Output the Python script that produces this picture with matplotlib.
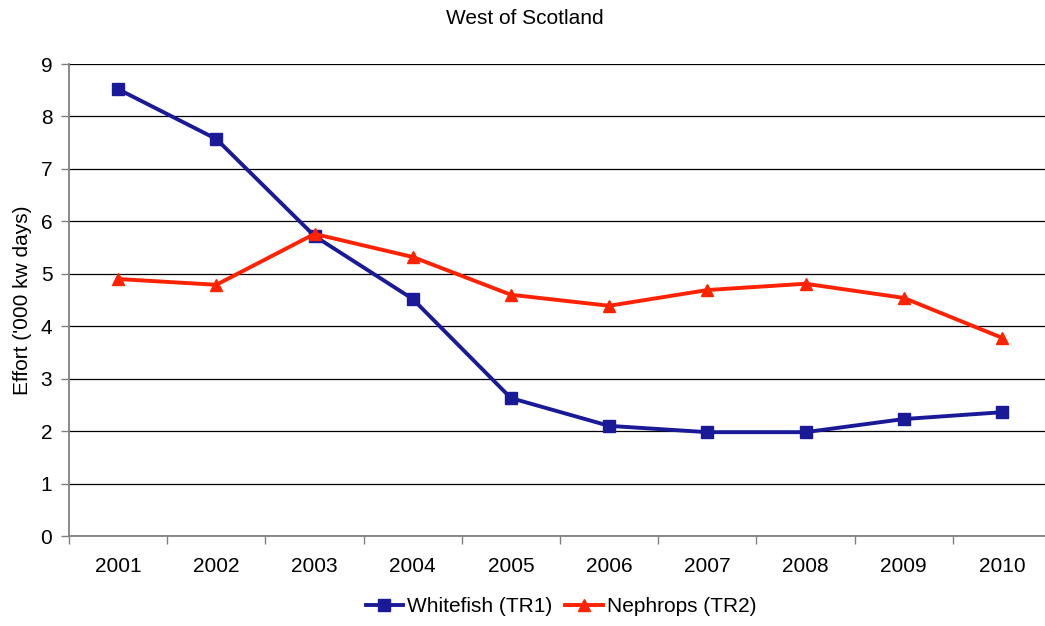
import matplotlib
matplotlib.use("Agg")
import matplotlib.pyplot as plt
from matplotlib.ticker import FixedLocator

plt.rcParams['font.family'] = ['Liberation Sans', 'DejaVu Sans']

years = ["2001", "2002", "2003", "2004", "2005", "2006", "2007", "2008", "2009", "2010"]
whitefish = [8.52, 7.57, 5.72, 4.52, 2.63, 2.10, 1.98, 1.98, 2.23, 2.36]
nephrops = [4.90, 4.79, 5.76, 5.32, 4.60, 4.39, 4.69, 4.81, 4.54, 3.78]

fig = plt.figure(figsize=(10.45, 6.26), dpi=100)
W, H = 1045, 626
left, right, top, bottom = 69, 1051, 64, 536
ax = fig.add_axes([left / W, (H - bottom) / H, (right - left) / W, (bottom - top) / H])

x = list(range(len(years)))
ax.plot(x, whitefish, color='#1a1a99', lw=2.8, marker='s', ms=8, label='Whitefish (TR1)', zorder=3)
ax.plot(x, nephrops, color='#ff2200', lw=2.8, marker='^', ms=8.5, label='Nephrops (TR2)', zorder=3)

ax.set_xlim(-0.5, len(years) - 0.5)
ax.set_ylim(0, 9)
ax.set_yticks(range(0, 10))
ax.yaxis.grid(True, color='#000000', lw=0.9)
ax.set_axisbelow(True)

ax.set_xticks(x)
ax.set_xticklabels(years)
ax.xaxis.set_minor_locator(FixedLocator([i + 0.5 for i in range(-1, len(years))]))
ax.tick_params(axis='x', which='major', length=0, pad=15, labelsize=15)
ax.tick_params(axis='x', which='minor', length=6, color='#808080', width=1)
ax.tick_params(axis='y', length=6, color='#808080', width=1, labelsize=15, pad=6)

for s in ['top', 'right']:
    ax.spines[s].set_visible(False)
for s in ['left', 'bottom']:
    ax.spines[s].set_color('#808080')
    ax.spines[s].set_linewidth(1.3)

ax.set_ylabel("Effort ('000 kw days)", fontsize=15, labelpad=6)
fig.text(525 / W, 1 - 19 / H, "West of Scotland", ha='center', va='center', fontsize=15)

fig.legend(loc='center', bbox_to_anchor=(561 / W, 1 - 607 / H), ncol=2, frameon=False,
           fontsize=15, handlelength=1.8, handletextpad=0.2, columnspacing=0.6)

fig.savefig("out.png", dpi=100)
